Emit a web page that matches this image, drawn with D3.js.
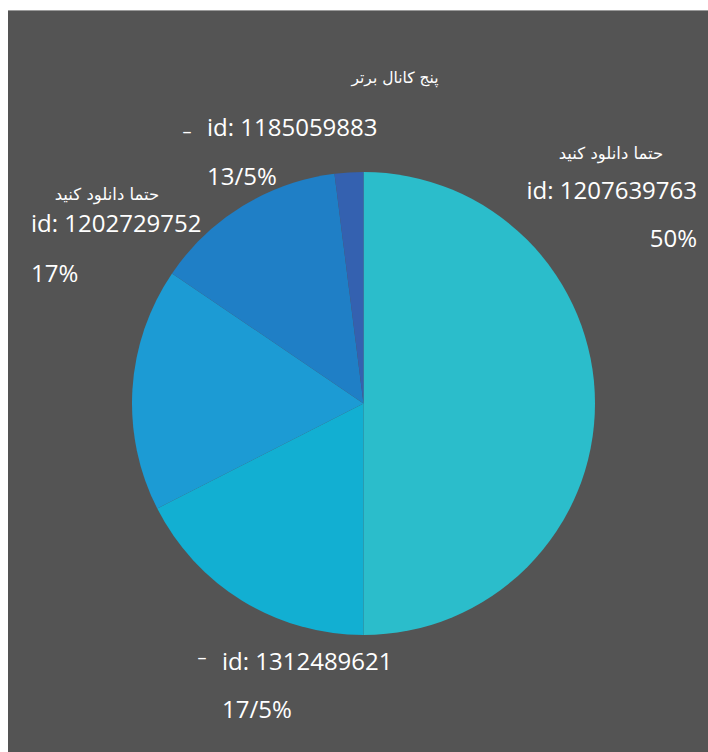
<!DOCTYPE html>
<html>
<head>
<meta charset="utf-8">
<script src="https://cdn.jsdelivr.net/npm/d3@7"></script>
<style>
  html, body { margin: 0; padding: 0; background: #ffffff; }
  svg { display: block; }
</style>
</head>
<body>
<svg id="chart" width="708" height="752"></svg>
<script>
// Top five channels: share of each channel
const channels = ["1207639763", "1312489621", "1202729752", "1185059883", "other"];
const shares = [50, 17.5, 17, 13.5, 2];
const shareLabels = ["50%", "17/5%", "17%", "13/5%", ""];
const notes = ["حتما دانلود کنید", "–", "حتما دانلود کنید", "–", ""];
const title = "پنج کانال برتر";
const sliceColors = ["#2bbdcb", "#12afd2", "#1c9bd4", "#1f7fc6", "#3461b0"];

// Label placement per slice (note, id line, percent line)
const layout = [
  { note: [611, 159, "middle"], id: [697, 199, "end"], pct: [697, 247, "end"] },
  { note: [202, 664, "middle"], id: [222, 670, "start"], pct: [222, 718, "start"] },
  { note: [107, 200, "middle"], id: [31, 232, "start"], pct: [31, 282, "start"] },
  { note: [187, 138, "middle"], id: [207, 136, "start"], pct: [207, 185, "start"] },
  null
];

const svg = d3.select("#chart");
const W = 708, H = 752;

// Panel background
svg.append("rect").attr("x", 8).attr("y", 10).attr("width", W - 8).attr("height", H - 10)
  .attr("fill", "#545454");
svg.append("line").attr("x1", 8).attr("x2", W).attr("y1", 10.5).attr("y2", 10.5)
  .attr("stroke", "#9a9a9a").attr("stroke-width", 1);

const cx = 363.5, cy = 403.5, r = 231.5;
const data = channels.map((c, i) => ({ id: c, value: shares[i], i }));

const pie = d3.pie().sort(null).value(d => d.value);
const arc = d3.arc().innerRadius(0).outerRadius(r);
const color = d3.scaleOrdinal().domain(channels).range(sliceColors);

const g = svg.append("g").attr("transform", `translate(${cx},${cy})`);
g.selectAll("path").data(pie(data)).join("path")
  .attr("d", arc)
  .attr("fill", d => color(d.data.id));

// Title
svg.append("text").attr("x", 395).attr("y", 83).attr("text-anchor", "middle")
  .attr("fill", "#ffffff").attr("font-family", "DejaVu Sans").attr("font-size", 15.5)
  .style("unicode-bidi", "plaintext")
  .text(title);

// Slice labels
const lab = svg.append("g").attr("fill", "#ffffff");
data.forEach((d, i) => {
  const L = layout[i];
  if (!L) return;
  const isDash = notes[i] === "–";
  lab.append("text")
    .attr("x", L.note[0]).attr("y", L.note[1]).attr("text-anchor", L.note[2])
    .attr("font-family", isDash ? "Open Sans" : "DejaVu Sans")
    .attr("font-size", isDash ? 18 : 16.5)
    .style("unicode-bidi", "plaintext")
    .text(notes[i]);
  lab.append("text")
    .attr("x", L.id[0]).attr("y", L.id[1]).attr("text-anchor", L.id[2])
    .attr("font-family", "Open Sans").attr("font-size", 24)
    .text("id: " + d.id);
  lab.append("text")
    .attr("x", L.pct[0]).attr("y", L.pct[1]).attr("text-anchor", L.pct[2])
    .attr("font-family", "Open Sans").attr("font-size", 24)
    .text(shareLabels[i]);
});
</script>
</body>
</html>
